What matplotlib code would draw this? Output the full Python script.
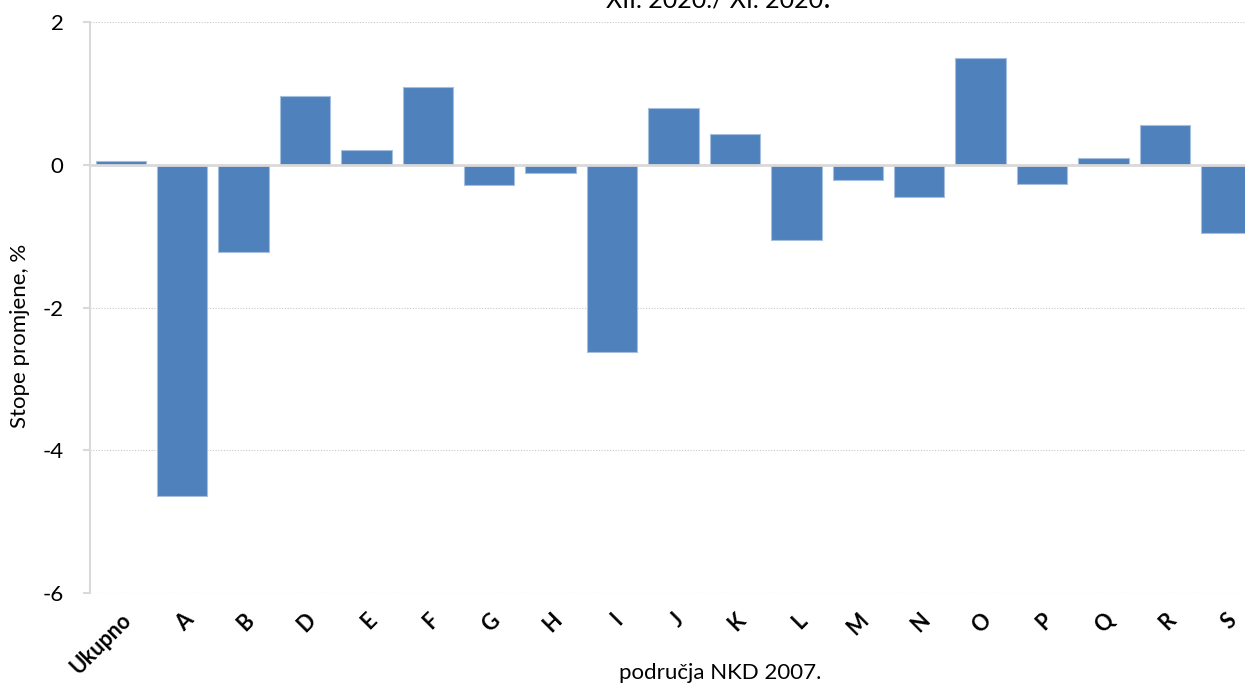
import matplotlib
matplotlib.use("Agg")
import matplotlib.pyplot as plt

categories = ["Ukupno", "A", "B", "D", "E", "F", "G", "H", "I", "J", "K", "L",
              "M", "N", "O", "P", "Q", "R", "S"]
values = [0.05, -4.64, -1.22, 0.97, 0.20, 1.09, -0.29, -0.11, -2.62, 0.79, 0.43,
          -1.05, -0.22, -0.45, 1.49, -0.27, 0.10, 0.56, -0.95]
yticks = [-6, -4, -2, 0, 2]

plt.rcParams['font.family'] = ['Lato', 'DejaVu Sans']

fig = plt.figure(figsize=(12.45, 6.84), dpi=100)
ax = fig.add_axes([90/1245, 1-593/684, (1257-90)/1245, (593-22)/684])

x = list(range(len(categories)))
ax.bar(x, values, width=0.82, color='#4F81BD', edgecolor='#A7BFDE', linewidth=0.8, zorder=3)

ax.set_xlim(-0.5, len(categories)-0.5)
ax.set_ylim(-6, 2)
ax.set_yticks(yticks)
ax.set_yticklabels([str(v) for v in yticks], fontsize=16)
for v in yticks:
    if v != 0:
        ax.axhline(v, color='#C8C8C8', linestyle=(0, (1, 1.5)), linewidth=0.8, zorder=1)
ax.axhline(0, color='#D9D9D9', linewidth=2, zorder=4)

ax.set_xticks(x)
ax.set_xticklabels(categories, rotation=45, ha='right', rotation_mode='anchor',
                   fontsize=15.5, fontweight='bold')
ax.tick_params(axis='x', length=0, pad=12)
ax.tick_params(axis='y', length=5, color='#D9D9D9', width=1.5, pad=14)

for s in ['top', 'right', 'bottom']:
    ax.spines[s].set_visible(False)
ax.spines['left'].set_color('#D9D9D9')
ax.spines['left'].set_linewidth(1.5)

fig.text(20/1245, 1-336/684, "Stope promjene, %", fontsize=16, rotation=90,
         ha='center', va='center')
fig.text(720/1245, 1-683/684, "područja NKD 2007.", fontsize=16, ha='center', va='bottom')
t = fig.text(715/1245, 1-8/684, "XII. 2020./ XI. 2020", fontsize=18, ha='center', va='baseline')
ax.annotate(".", xy=(1, 0), xycoords=t, ha='left', va='bottom', fontsize=18,
            fontweight='bold', annotation_clip=False)

fig.savefig("out.png", dpi=100)
